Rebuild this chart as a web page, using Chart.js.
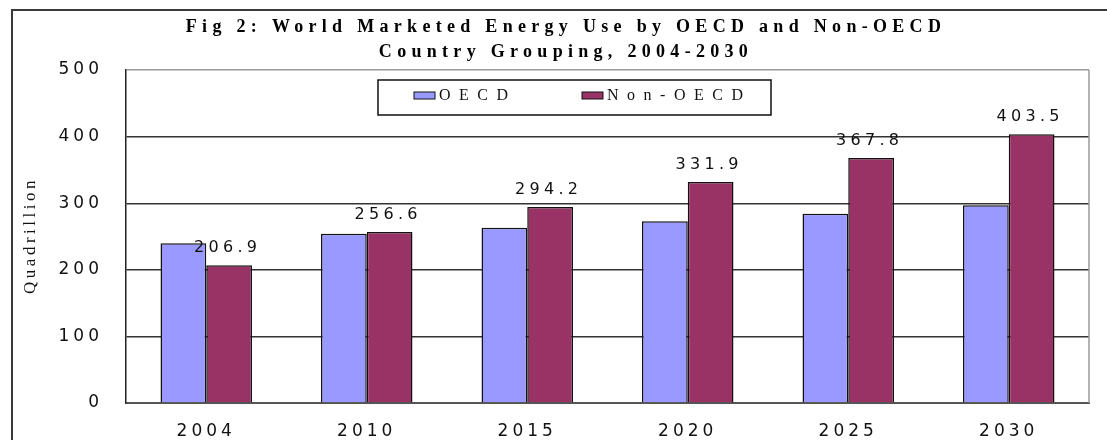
<!DOCTYPE html>
<html>
<head>
<meta charset="utf-8">
<script src="https://cdn.jsdelivr.net/npm/chart.js@4.4.1/dist/chart.umd.min.js"></script>
<style>
  html, body { margin: 0; padding: 0; background: #fff; overflow: hidden; }
  #wrap { position: absolute; left: 0; top: 0; width: 1107px; height: 460px; }
</style>
</head>
<body>
<div id="wrap"><canvas id="chart" width="1107" height="460"></canvas></div>
<script>
//Chart data
const years = ["2004", "2010", "2015", "2020", "2025", "2030"];
const oecd = [239.8, 254.0, 263.0, 273.0, 284.0, 297.0];
const nonOecd = [206.9, 256.6, 294.2, 331.9, 367.8, 403.5];
const seriesNames = ["OECD", "Non-OECD"];
const seriesColors = ["#9999ff", "#993366"];
const titleLines = ["Fig 2: World Marketed Energy Use by OECD and Non-OECD", "Country Grouping, 2004-2030"];
const yTitle = "Quadrillion";

//Outer frame + letter spacing for axis text
const framePlugin = {
  id: "frame",
  beforeDraw(chart) {
    const ctx = chart.ctx;
    ctx.save();
    ctx.strokeStyle = "#3a3a3a";
    ctx.lineWidth = 2;
    ctx.strokeRect(12, 10, 1200, 500);
    ctx.restore();
    ctx.letterSpacing = "4px";
  },
  beforeDatasetsDraw(chart) {
    //right border of plot area
    const { ctx, chartArea } = chart;
    ctx.save();
    ctx.strokeStyle = "#9a9a9a";
    ctx.lineWidth = 1.5;
    ctx.beginPath();
    ctx.moveTo(chartArea.right, chartArea.top);
    ctx.lineTo(chartArea.right, chartArea.bottom);
    ctx.stroke();
    ctx.restore();
  }
};

//Value labels above Non-OECD bars
const valueLabels = {
  id: "valueLabels",
  afterDatasetsDraw(chart) {
    const ctx = chart.ctx;
    const meta = chart.getDatasetMeta(1);
    ctx.save();
    ctx.letterSpacing = "4.3px";
    ctx.font = "16px 'DejaVu Sans'";
    ctx.fillStyle = "#111";
    ctx.textAlign = "center";
    ctx.textBaseline = "alphabetic";
    meta.data.forEach((bar, i) => {
      ctx.fillText(nonOecd[i].toFixed(1), bar.x - 1.5, bar.y - 13);
    });
    ctx.restore();
  }
};

//Legend box inside plot, title, y axis title
const legendTitle = {
  id: "legendTitle",
  afterDraw(chart) {
    const { ctx, chartArea } = chart;
    ctx.save();
    //title
    ctx.letterSpacing = "5.3px";
    ctx.font = "bold 18px 'Liberation Serif'";
    ctx.fillStyle = "#000";
    ctx.textAlign = "center";
    ctx.textBaseline = "middle";
    titleLines.forEach((line, i) => ctx.fillText(line, 566, 27 + i * 25));

    //y axis title
    ctx.save();
    ctx.letterSpacing = "3.5px";
    ctx.font = "17px 'Liberation Serif'";
    ctx.fillStyle = "#111";
    ctx.translate(31, (chartArea.top + chartArea.bottom) / 2 - 1);
    ctx.rotate(-Math.PI / 2);
    ctx.fillText(yTitle, 0, 0);
    ctx.restore();

    //legend
    const bx = chartArea.left + 252, by = chartArea.top + 10;
    ctx.fillStyle = "#fff";
    ctx.fillRect(bx, by, 393, 35);
    ctx.strokeStyle = "#111";
    ctx.lineWidth = 1.5;
    ctx.strokeRect(bx, by, 393, 35);
    ctx.letterSpacing = "8.5px";
    ctx.font = "16px 'Liberation Serif'";
    ctx.textAlign = "left";
    const offsets = [36, 204];
    seriesNames.forEach((name, i) => {
      const sx = bx + offsets[i];
      ctx.fillStyle = seriesColors[i];
      ctx.fillRect(sx, by + 12, 21, 7);
      ctx.strokeStyle = "#111";
      ctx.lineWidth = 1;
      ctx.strokeRect(sx, by + 12, 21, 7);
      ctx.fillStyle = "#111";
      ctx.fillText(name, sx + 25, by + 16);
    });
    ctx.restore();
  }
};

const chart = new Chart(document.getElementById("chart"), {
  type: "bar",
  plugins: [framePlugin, valueLabels, legendTitle],
  data: {
    labels: years,
    datasets: [
      {
        label: seriesNames[0],
        data: oecd,
        backgroundColor: seriesColors[0],
        borderColor: "#111",
        borderWidth: 1.5,
        categoryPercentage: 0.57,
        barPercentage: 1
      },
      {
        label: seriesNames[1],
        data: nonOecd,
        backgroundColor: seriesColors[1],
        borderColor: "#111",
        borderWidth: 1.5,
        categoryPercentage: 0.57,
        barPercentage: 1
      }
    ]
  },
  options: {
    responsive: false,
    animation: false,
    layout: { padding: { left: 0, right: 18, top: 70, bottom: 0 } },
    plugins: {
      legend: { display: false },
      tooltip: { enabled: false },
      title: { display: false }
    },
    scales: {
      x: {
        grid: { display: false },
        border: { display: true, color: "#555", width: 2 },
        ticks: {
          color: "#111",
          font: { family: "'DejaVu Sans'", size: 17 },
          padding: 10,
          maxRotation: 0
        },
        afterFit(scale) { scale.height = 57; }
      },
      y: {
        min: 0,
        max: 500,
        grid: {
          drawTicks: false,
          color: (c) => (c.tick && c.tick.value === 500 ? "#9a9a9a" : "#333"),
          lineWidth: 1.4
        },
        border: { display: true, color: "#222", width: 1.5 },
        ticks: {
          stepSize: 100,
          color: "#111",
          font: { family: "'DejaVu Sans'", size: 17 },
          padding: 23
        },
        afterFit(scale) { scale.width = 126; }
      }
    }
  }
});
</script>
</body>
</html>
